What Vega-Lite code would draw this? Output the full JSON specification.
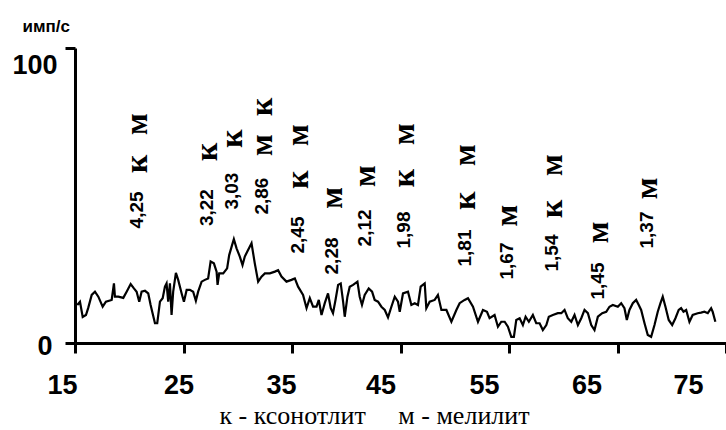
{
  "$schema": "https://vega.github.io/schema/vega-lite/v6.json",
  "width": 651,
  "height": 295,
  "autosize": {"type": "none"},
  "padding": {"left": 75, "top": 48, "right": 0, "bottom": 87},
  "background": "white",
  "config": {"view": {"stroke": null}, "axis": {"grid": false}},
  "datasets": {
    "pattern": [
      {"two_theta":15.21,"counts":12.9},{"two_theta":15.46,"counts":14.0},{"two_theta":15.71,"counts":8.8},{"two_theta":16.01,"counts":9.5},{"two_theta":16.22,"counts":11.9},{"two_theta":16.54,"counts":16.3},{"two_theta":16.84,"counts":17.4},{"two_theta":17.15,"counts":15.7},{"two_theta":17.55,"counts":12.3},{"two_theta":17.85,"counts":14.0},{"two_theta":18.38,"counts":14.6},{"two_theta":18.59,"counts":20.2},{"two_theta":18.68,"counts":15.7},{"two_theta":18.99,"counts":15.7},{"two_theta":19.45,"counts":15.3},{"two_theta":19.76,"counts":17.4},{"two_theta":20.13,"counts":20.0},{"two_theta":20.43,"counts":18.5},{"two_theta":20.68,"counts":17.4},{"two_theta":20.92,"counts":14.0},{"two_theta":21.14,"counts":17.4},{"two_theta":21.45,"counts":17.7},{"two_theta":21.75,"counts":16.8},{"two_theta":21.97,"counts":12.9},{"two_theta":22.15,"counts":10.1},{"two_theta":22.37,"counts":6.7},{"two_theta":22.58,"counts":6.7},{"two_theta":22.83,"counts":14.0},{"two_theta":23.08,"counts":15.2},{"two_theta":23.29,"counts":19.1},{"two_theta":23.44,"counts":20.2},{"two_theta":23.59,"counts":14.0},{"two_theta":23.75,"counts":20.2},{"two_theta":23.90,"counts":9.5},{"two_theta":24.05,"counts":17.4},{"two_theta":24.30,"counts":23.8},{"two_theta":24.51,"counts":21.4},{"two_theta":24.83,"counts":16.8},{"two_theta":25.04,"counts":14.0},{"two_theta":25.29,"counts":18.0},{"two_theta":25.59,"counts":18.0},{"two_theta":25.89,"counts":17.4},{"two_theta":26.14,"counts":14.3},{"two_theta":26.35,"counts":17.4},{"two_theta":26.67,"counts":20.8},{"two_theta":26.97,"counts":21.4},{"two_theta":27.27,"counts":21.9},{"two_theta":27.50,"counts":27.6},{"two_theta":27.80,"counts":27.0},{"two_theta":28.05,"counts":24.2},{"two_theta":28.14,"counts":19.7},{"two_theta":28.29,"counts":23.6},{"two_theta":28.66,"counts":23.6},{"two_theta":29.02,"counts":25.3},{"two_theta":29.21,"counts":29.8},{"two_theta":29.43,"counts":32.6},{"two_theta":29.64,"counts":35.2},{"two_theta":29.89,"counts":32.1},{"two_theta":30.19,"counts":29.3},{"two_theta":30.44,"counts":26.4},{"two_theta":30.65,"counts":29.3},{"two_theta":30.87,"counts":30.9},{"two_theta":31.27,"counts":33.8},{"two_theta":31.57,"counts":27.0},{"two_theta":31.88,"counts":20.8},{"two_theta":32.19,"counts":22.5},{"two_theta":32.50,"counts":23.6},{"two_theta":32.96,"counts":23.6},{"two_theta":33.42,"counts":24.2},{"two_theta":33.72,"counts":24.7},{"two_theta":34.03,"counts":22.5},{"two_theta":34.49,"counts":20.8},{"two_theta":34.95,"counts":21.4},{"two_theta":35.26,"counts":21.9},{"two_theta":35.56,"counts":19.1},{"two_theta":36.02,"counts":16.3},{"two_theta":36.34,"counts":11.8},{"two_theta":36.64,"counts":15.2},{"two_theta":36.94,"counts":12.3},{"two_theta":37.26,"counts":12.3},{"two_theta":37.47,"counts":14.6},{"two_theta":37.72,"counts":9.5},{"two_theta":38.02,"counts":13.5},{"two_theta":38.32,"counts":16.8},{"two_theta":38.57,"counts":11.8},{"two_theta":38.78,"counts":10.1},{"two_theta":39.01,"counts":14.6},{"two_theta":39.25,"counts":19.7},{"two_theta":39.49,"counts":20.2},{"two_theta":39.71,"counts":14.0},{"two_theta":39.86,"counts":8.9},{"two_theta":40.11,"counts":15.7},{"two_theta":40.32,"counts":19.1},{"two_theta":40.63,"counts":19.7},{"two_theta":41.03,"counts":20.8},{"two_theta":41.24,"counts":15.7},{"two_theta":41.45,"counts":12.9},{"two_theta":41.70,"counts":16.3},{"two_theta":42.07,"counts":18.5},{"two_theta":42.38,"counts":17.4},{"two_theta":42.62,"counts":14.6},{"two_theta":42.93,"counts":14.0},{"two_theta":43.24,"counts":12.3},{"two_theta":43.55,"counts":11.2},{"two_theta":43.85,"counts":8.7},{"two_theta":44.16,"counts":12.3},{"two_theta":44.47,"counts":15.7},{"two_theta":44.77,"counts":14.0},{"two_theta":44.93,"counts":10.6},{"two_theta":45.23,"counts":16.8},{"two_theta":45.69,"counts":17.4},{"two_theta":46.00,"counts":12.9},{"two_theta":46.31,"counts":13.5},{"two_theta":46.61,"counts":12.9},{"two_theta":46.86,"counts":19.1},{"two_theta":47.23,"counts":20.2},{"two_theta":47.38,"counts":11.8},{"two_theta":47.69,"counts":14.0},{"two_theta":48.15,"counts":14.6},{"two_theta":48.45,"counts":16.3},{"two_theta":48.77,"counts":11.2},{"two_theta":49.23,"counts":11.2},{"two_theta":49.69,"counts":7.2},{"two_theta":50.15,"counts":11.2},{"two_theta":50.45,"counts":13.5},{"two_theta":50.91,"counts":14.6},{"two_theta":51.22,"counts":15.2},{"two_theta":51.68,"counts":12.3},{"two_theta":52.14,"counts":7.2},{"two_theta":52.60,"counts":11.2},{"two_theta":52.97,"counts":10.6},{"two_theta":53.21,"counts":8.4},{"two_theta":53.67,"counts":9.5},{"two_theta":53.98,"counts":5.5},{"two_theta":54.29,"counts":7.2},{"two_theta":54.60,"counts":7.2},{"two_theta":54.90,"counts":5.5},{"two_theta":55.21,"counts":2.1},{"two_theta":55.45,"counts":2.1},{"two_theta":55.67,"counts":7.8},{"two_theta":55.98,"counts":8.4},{"two_theta":56.28,"counts":6.1},{"two_theta":56.53,"counts":8.9},{"two_theta":56.83,"counts":7.2},{"two_theta":57.20,"counts":9.5},{"two_theta":57.51,"counts":6.7},{"two_theta":57.82,"counts":6.7},{"two_theta":58.12,"counts":4.4},{"two_theta":58.44,"counts":6.1},{"two_theta":58.67,"counts":8.9},{"two_theta":59.04,"counts":9.5},{"two_theta":59.50,"counts":10.1},{"two_theta":59.82,"counts":10.1},{"two_theta":60.12,"counts":11.2},{"two_theta":60.42,"counts":8.4},{"two_theta":60.74,"counts":7.2},{"two_theta":61.04,"counts":9.5},{"two_theta":61.35,"counts":6.1},{"two_theta":61.66,"counts":8.4},{"two_theta":61.96,"counts":11.2},{"two_theta":62.27,"counts":10.1},{"two_theta":62.58,"counts":6.1},{"two_theta":62.88,"counts":4.4},{"two_theta":63.19,"counts":8.9},{"two_theta":63.59,"counts":10.1},{"two_theta":63.96,"counts":10.6},{"two_theta":64.26,"counts":12.3},{"two_theta":64.57,"counts":12.9},{"two_theta":65.03,"counts":12.3},{"two_theta":65.34,"counts":13.5},{"two_theta":65.64,"counts":11.8},{"two_theta":65.86,"counts":7.8},{"two_theta":66.10,"counts":11.2},{"two_theta":66.41,"counts":13.5},{"two_theta":66.72,"counts":14.6},{"two_theta":66.96,"counts":12.9},{"two_theta":67.18,"counts":11.2},{"two_theta":67.49,"counts":6.7},{"two_theta":67.79,"counts":2.7},{"two_theta":68.10,"counts":2.1},{"two_theta":68.41,"counts":6.1},{"two_theta":68.71,"counts":10.6},{"two_theta":68.96,"counts":13.5},{"two_theta":69.17,"counts":15.7},{"two_theta":69.42,"counts":12.3},{"two_theta":69.72,"counts":7.8},{"two_theta":70.04,"counts":6.1},{"two_theta":70.34,"counts":8.4},{"two_theta":70.64,"counts":11.2},{"two_theta":70.86,"counts":11.8},{"two_theta":71.08,"counts":10.6},{"two_theta":71.33,"counts":11.2},{"two_theta":71.63,"counts":7.2},{"two_theta":71.93,"counts":9.5},{"two_theta":72.39,"counts":10.1},{"two_theta":72.70,"counts":10.3},{"two_theta":73.01,"counts":10.6},{"two_theta":73.32,"counts":10.1},{"two_theta":73.63,"counts":11.8},{"two_theta":73.77,"counts":10.6},{"two_theta":74.02,"counts":7.2}
    ],
    "peaks": [
      {"two_theta":20.71,"level":45.1,"label":"4,25","kind":"d"},
      {"two_theta":27.15,"level":45.9,"label":"3,22","kind":"d"},
      {"two_theta":29.46,"level":51.5,"label":"3,03","kind":"d"},
      {"two_theta":32.22,"level":49.8,"label":"2,86","kind":"d"},
      {"two_theta":35.53,"level":36.6,"label":"2,45","kind":"d"},
      {"two_theta":38.66,"level":29.5,"label":"2,28","kind":"d"},
      {"two_theta":41.70,"level":39.0,"label":"2,12","kind":"d"},
      {"two_theta":45.29,"level":38.3,"label":"1,98","kind":"d"},
      {"two_theta":50.91,"level":32.2,"label":"1,81","kind":"d"},
      {"two_theta":54.78,"level":27.8,"label":"1,67","kind":"d"},
      {"two_theta":58.92,"level":30.5,"label":"1,54","kind":"d"},
      {"two_theta":63.16,"level":21.0,"label":"1,45","kind":"d"},
      {"two_theta":67.76,"level":38.3,"label":"1,37","kind":"d"},
      {"two_theta":20.71,"level":60.7,"label":"к","kind":"phase"},
      {"two_theta":20.71,"level":74.2,"label":"м","kind":"phase"},
      {"two_theta":27.15,"level":64.7,"label":"к","kind":"phase"},
      {"two_theta":29.46,"level":69.2,"label":"к","kind":"phase"},
      {"two_theta":32.22,"level":67.1,"label":"м","kind":"phase"},
      {"two_theta":32.22,"level":80.0,"label":"к","kind":"phase"},
      {"two_theta":35.53,"level":55.3,"label":"к","kind":"phase"},
      {"two_theta":35.53,"level":70.5,"label":"м","kind":"phase"},
      {"two_theta":38.66,"level":49.2,"label":"м","kind":"phase"},
      {"two_theta":41.70,"level":56.6,"label":"м","kind":"phase"},
      {"two_theta":45.29,"level":55.8,"label":"к","kind":"phase"},
      {"two_theta":45.29,"level":70.8,"label":"м","kind":"phase"},
      {"two_theta":50.91,"level":48.2,"label":"к","kind":"phase"},
      {"two_theta":50.91,"level":63.7,"label":"м","kind":"phase"},
      {"two_theta":54.78,"level":43.2,"label":"м","kind":"phase"},
      {"two_theta":58.92,"level":45.4,"label":"к","kind":"phase"},
      {"two_theta":58.92,"level":60.3,"label":"м","kind":"phase"},
      {"two_theta":63.16,"level":37.5,"label":"м","kind":"phase"},
      {"two_theta":67.76,"level":52.4,"label":"м","kind":"phase"}
    ]
  },
  "layer": [
    {
      "data": {"name": "pattern"},
      "mark": {"type": "line", "color": "black", "strokeWidth": 2.2},
      "encoding": {
        "x": {
          "field": "two_theta", "type": "quantitative",
          "scale": {"domain": [15, 75], "nice": false, "zero": false},
          "axis": {
            "values": [15, 25, 35, 45, 55, 65, 75],
            "domainWidth": 3, "domainColor": "black",
            "tickWidth": 3, "tickSize": 10, "tickColor": "black",
            "labelFont": "Liberation Sans", "labelFontSize": 27, "labelFontWeight": "bold", "labelColor": "black",
            "labelBaseline": "alphabetic", "labelPadding": 40, "labelFlush": false, "labelOverlap": false,
            "labelOffset": {"condition": [
              {"test": "datum.value == 15", "value": -13},
              {"test": "datum.value == 25", "value": -5},
              {"test": "datum.value == 35", "value": -11},
              {"test": "datum.value == 45", "value": -20},
              {"test": "datum.value == 55", "value": -25},
              {"test": "datum.value == 65", "value": -31}
            ], "value": -38},
            "title": "к - ксонотлит\u00a0\u00a0\u00a0\u00a0\u00a0м - мелилит",
            "titleFont": "Liberation Serif", "titleFontSize": 26, "titleFontWeight": "normal", "titleColor": "black",
            "titleX": 299, "titleY": 80, "titleAlign": "center", "titleBaseline": "alphabetic"
          }
        },
        "y": {
          "field": "counts", "type": "quantitative",
          "scale": {"domain": [0, 100], "nice": false},
          "axis": {
            "values": [0, 100],
            "domainWidth": 3, "domainColor": "black",
            "tickWidth": 3, "tickSize": 10, "tickColor": "black",
            "labelFont": "Liberation Sans", "labelFontSize": 27, "labelFontWeight": "bold", "labelColor": "black",
            "labelBaseline": "middle",
            "labelOffset": {"condition": {"test": "datum.value == 100", "value": 17}, "value": 3},
            "labelPadding": {"condition": {"test": "datum.value == 100", "value": 8}, "value": 13},
            "title": "имп/с", "titleAngle": 0,
            "titleFont": "Liberation Sans", "titleFontSize": 17, "titleFontWeight": "bold", "titleColor": "black",
            "titleAlign": "left", "titleBaseline": "middle", "titleX": -53, "titleY": -22
          }
        }
      }
    },
    {
      "data": {"name": "peaks"},
      "transform": [{"filter": "datum.kind == 'd'"}],
      "mark": {"type": "text", "angle": 270, "font": "Liberation Sans", "fontSize": 19, "fontWeight": "bold", "align": "center", "baseline": "middle", "color": "black"},
      "encoding": {
        "x": {"field": "two_theta", "type": "quantitative"},
        "y": {"field": "level", "type": "quantitative"},
        "text": {"field": "label"}
      }
    },
    {
      "data": {"name": "peaks"},
      "transform": [{"filter": "datum.kind == 'phase'"}],
      "mark": {"type": "text", "angle": 270, "font": "Liberation Serif", "fontSize": 32, "fontWeight": "bold", "align": "center", "baseline": "middle", "color": "black"},
      "encoding": {
        "x": {"field": "two_theta", "type": "quantitative"},
        "y": {"field": "level", "type": "quantitative"},
        "text": {"field": "label"}
      }
    }
  ]
}
